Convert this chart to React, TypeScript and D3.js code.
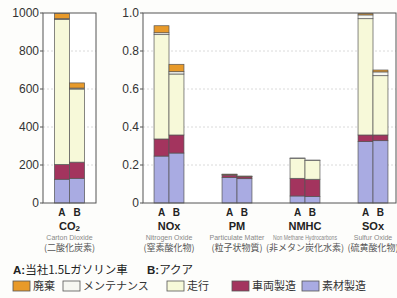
import React from "react";
import * as d3 from "d3";

// stacking order, bottom to top
const stages = ["素材製造", "車両製造", "走行", "メンテナンス", "廃棄"];
const stageColors = ["#a9abe2", "#a3345e", "#f7f9d9", "#f6f7f2", "#e89a2a"];
const legendOrder = [4, 3, 2, 1, 0];

const cars = ["A", "B"];

// CO2 panel (absolute values)
const co2A = [125, 78, 762, 5, 28];
const co2B = [130, 85, 385, 5, 27];
const co2Ticks = [0, 200, 400, 600, 800, 1000];

// relative panel (A = about 1.0)
const gases = ["NOx", "PM", "NMHC", "SOx"];
const gasEn = ["Nitrogen Oxide", "Particulate Matter", "Non Methane Hydrocarbons", "Sulfur Oxide"];
const gasJa = ["(窒素酸化物)", "(粒子状物質)", "(非メタン炭化水素)", "(硫黄酸化物)"];
const gasA = [
  [0.247, 0.09, 0.549, 0.01, 0.037],
  [0.135, 0.012, 0.003, 0, 0.002],
  [0.037, 0.093, 0.104, 0.003, 0],
  [0.323, 0.035, 0.612, 0.02, 0.008],
];
const gasB = [
  [0.263, 0.095, 0.321, 0.012, 0.039],
  [0.128, 0.01, 0.002, 0, 0.002],
  [0.035, 0.09, 0.098, 0.003, 0],
  [0.328, 0.03, 0.312, 0.02, 0.01],
];
const relTicks = [0, 0.2, 0.4, 0.6, 0.8, 1.0];

const latin = "'Liberation Sans', Arial, sans-serif";
const cjk = "'Noto Sans CJK JP', sans-serif";

const top = 13;
const bottom = 203;

function Stack({ x, w, vals, y }: { x: number; w: number; vals: number[]; y: d3.ScaleLinear<number, number> }) {
  let acc = 0;
  return (
    <g>
      {vals.map((v, i) => {
        const y0 = acc;
        acc += v;
        if (v <= 0) return null;
        return (
          <rect
            key={i}
            x={x}
            y={y(acc)}
            width={w}
            height={y(y0) - y(acc)}
            fill={stageColors[i]}
            stroke="#555"
            strokeWidth={0.7}
          />
        );
      })}
    </g>
  );
}

function CatLabel({ cx, main, en, ja, sub }: { cx: number; main: string; en: string; ja: string; sub?: string }) {
  return (
    <g textAnchor="middle">
      <text x={cx} y={230} fontFamily={latin} fontSize={11} fontWeight="bold" fill="#222">
        {main}
        {sub && <tspan fontSize={8} dy={1}>{sub}</tspan>}
      </text>
      <text
        x={cx}
        y={240}
        fontFamily={latin}
        fontSize={7}
        fill="#888"
        textLength={en.length > 20 ? 64 : undefined}
        lengthAdjust="spacingAndGlyphs"
      >
        {en}
      </text>
      <text x={cx} y={251} fontFamily={cjk} fontSize={9} fill="#555">
        {ja}
      </text>
    </g>
  );
}

export default function App() {
  const yL = d3.scaleLinear().domain([0, 1000]).range([bottom, top]);
  const yR = d3.scaleLinear().domain([0, 1]).range([bottom, top]);

  const xL = d3.scaleBand().domain(["CO2"]).range([43, 96]).paddingInner(0.43).paddingOuter(0.215);
  const xLin = d3.scaleBand().domain(cars).range([0, xL.bandwidth()]);

  const xR = d3.scaleBand().domain(gases).range([135, 407]).paddingInner(0.56).paddingOuter(0.28);
  const xRin = d3.scaleBand().domain(cars).range([0, xR.bandwidth()]);

  const legendX = [13, 63, 167, 232, 302];

  return (
    <div style={{ position: "fixed", left: 0, top: 0 }}>
      <svg width={397} height={298} style={{ display: "block", background: "#fdfdfb" }}>
        {/* left panel */}
        <rect x={43} y={top} width={53} height={bottom - top} fill="#fff" />
        {co2Ticks.slice(1, -1).map((t) => (
          <line key={t} x1={43} x2={96} y1={yL(t)} y2={yL(t)} stroke="#d0d0d0" strokeDasharray="2,2" strokeWidth={0.8} />
        ))}
        {co2Ticks.map((t) => (
          <g key={t}>
            <line x1={40} x2={43} y1={yL(t)} y2={yL(t)} stroke="#555" />
            <text x={39} y={yL(t) + 4} textAnchor="end" fontFamily={latin} fontSize={12} fill="#333">
              {t}
            </text>
          </g>
        ))}
        {[co2A, co2B].map((vals, i) => (
          <Stack key={i} x={(xL("CO2") ?? 0) + (xLin(cars[i]) ?? 0)} w={xLin.bandwidth()} vals={vals} y={yL} />
        ))}
        <rect x={43} y={top} width={53} height={bottom - top} fill="none" stroke="#555" strokeWidth={1} />
        {cars.map((c) => (
          <text
            key={c}
            x={(xL("CO2") ?? 0) + (xLin(c) ?? 0) + xLin.bandwidth() / 2}
            y={216}
            textAnchor="middle"
            fontFamily={latin}
            fontSize={10}
            fontWeight="bold"
            fill="#222"
          >
            {c}
          </text>
        ))}
        <CatLabel cx={(xL("CO2") ?? 0) + xL.bandwidth() / 2} main="CO" sub="2" en="Carton Dioxide" ja="(二酸化炭素)" />

        {/* right panel */}
        <rect x={143} y={top} width={253} height={bottom - top} fill="#fff" />
        {relTicks.slice(1, -1).map((t) => (
          <line key={t} x1={143} x2={396} y1={yR(t)} y2={yR(t)} stroke="#d0d0d0" strokeDasharray="2,2" strokeWidth={0.8} />
        ))}
        {relTicks.map((t) => (
          <g key={t}>
            <line x1={140} x2={143} y1={yR(t)} y2={yR(t)} stroke="#555" />
            <text x={139} y={yR(t) + 4} textAnchor="end" fontFamily={latin} fontSize={12} fill="#333">
              {t === 0 ? "0" : t.toFixed(1)}
            </text>
          </g>
        ))}
        {gases.map((g, gi) =>
          [gasA[gi], gasB[gi]].map((vals, i) => (
            <Stack key={g + i} x={(xR(g) ?? 0) + (xRin(cars[i]) ?? 0)} w={xRin.bandwidth()} vals={vals} y={yR} />
          ))
        )}
        <rect x={143} y={top} width={253} height={bottom - top} fill="none" stroke="#555" strokeWidth={1} />
        {gases.map((g) =>
          cars.map((c) => (
            <text
              key={g + c}
              x={(xR(g) ?? 0) + (xRin(c) ?? 0) + xRin.bandwidth() / 2}
              y={216}
              textAnchor="middle"
              fontFamily={latin}
              fontSize={10}
              fontWeight="bold"
              fill="#222"
            >
              {c}
            </text>
          ))
        )}
        {gases.map((g, gi) => (
          <CatLabel key={g} cx={(xR(g) ?? 0) + xR.bandwidth() / 2} main={g} en={gasEn[gi]} ja={gasJa[gi]} />
        ))}

        {/* legend */}
        <text x={13} y={274} fontFamily={cjk} fontSize={11.5} fill="#222">
          <tspan fontFamily={latin} fontWeight="bold">A:</tspan>
          <tspan>当社1.5Lガソリン車</tspan>
        </text>
        <text x={147} y={274} fontFamily={cjk} fontSize={11.5} fill="#222">
          <tspan fontFamily={latin} fontWeight="bold">B:</tspan>
          <tspan>アクア</tspan>
        </text>
        {legendOrder.map((si, k) => (
          <g key={si}>
            <rect x={legendX[k]} y={281} width={17} height={10} fill={stageColors[si]} stroke="#555" strokeWidth={0.8} />
            <text x={legendX[k] + 20} y={290} fontFamily={cjk} fontSize={11} fill="#333">
              {stages[si]}
            </text>
          </g>
        ))}
      </svg>
    </div>
  );
}
